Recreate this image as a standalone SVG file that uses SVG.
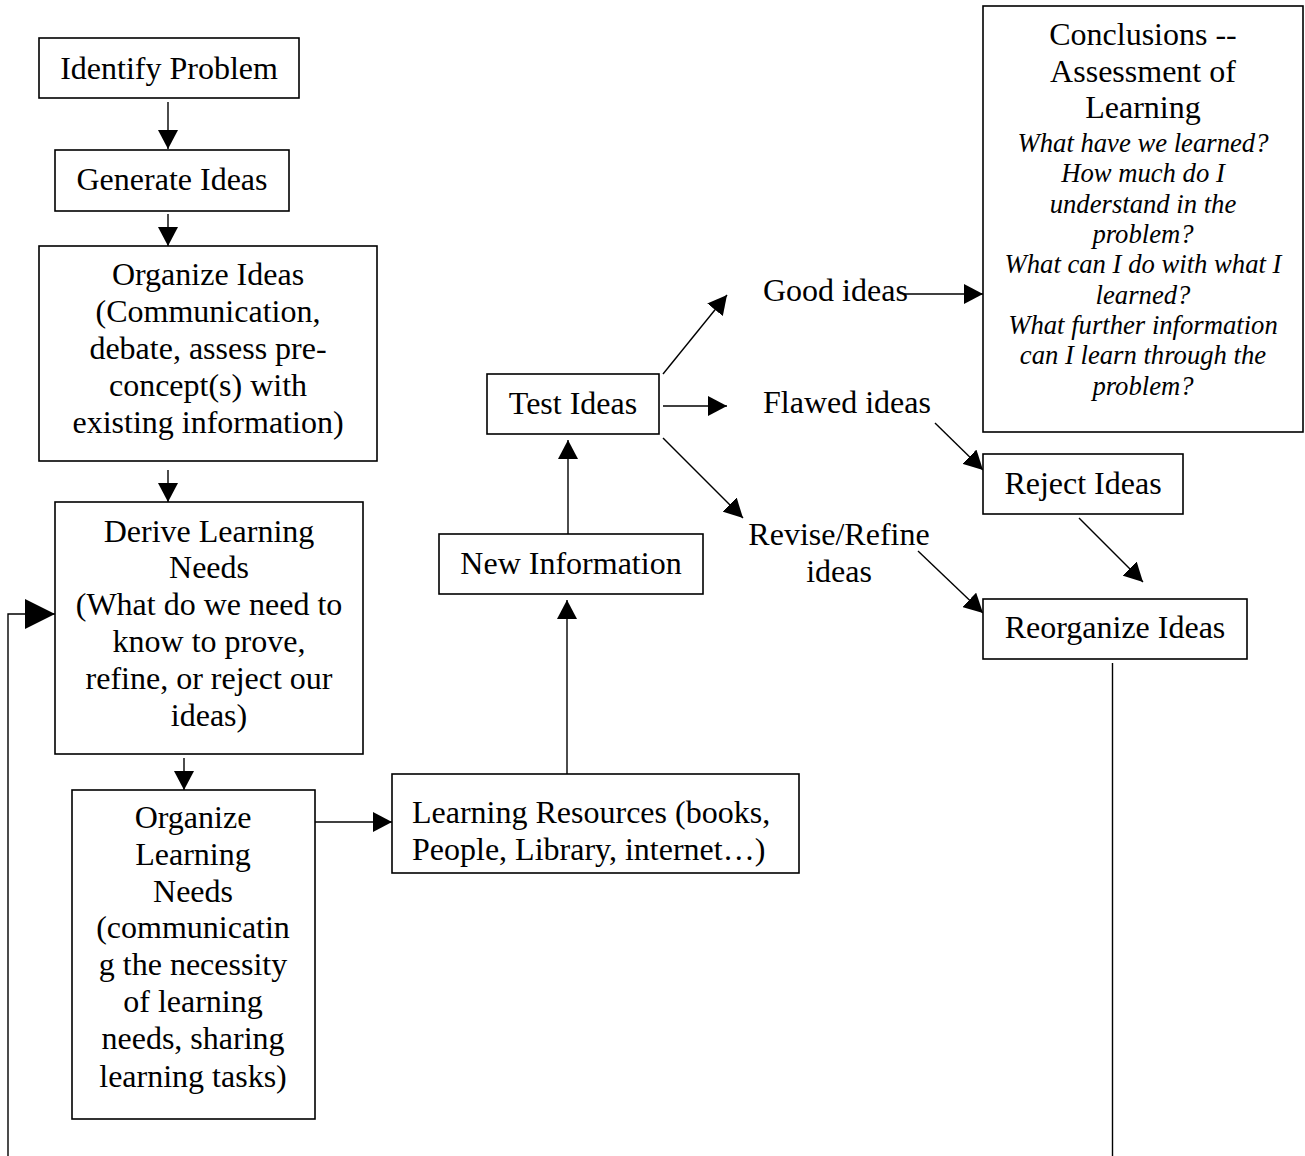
<svg xmlns="http://www.w3.org/2000/svg" width="1305" height="1156" viewBox="0 0 1305 1156">
<style>
  .box { fill: #fff; stroke: #000; stroke-width: 1.6; }
  .t { font-family: "Liberation Serif", "Times New Roman", serif; font-size: 32px; fill: #000; text-anchor: middle; }
  .tl { font-family: "Liberation Serif", "Times New Roman", serif; font-size: 32px; fill: #000; }
  .it { font-family: "Liberation Serif", "Times New Roman", serif; font-size: 26.67px; font-style: italic; fill: #000; text-anchor: middle; }
  .c { stroke: #000; stroke-width: 1.4; fill: none; }
</style>
<defs>
  <marker id="a" markerUnits="userSpaceOnUse" markerWidth="20" markerHeight="20" refX="19" refY="10" orient="auto">
    <path d="M0,0 L19,10 L0,20 Z" fill="#000"/>
  </marker>
  <marker id="big" markerUnits="userSpaceOnUse" markerWidth="31" markerHeight="30" refX="30" refY="15" orient="auto">
    <path d="M0,0 L30,15 L0,30 Z" fill="#000"/>
  </marker>
</defs>
<rect width="1305" height="1156" fill="#fff"/>

<g id="connectors">
  <line class="c" x1="168" y1="102" x2="168" y2="149" marker-end="url(#a)"/>
  <line class="c" x1="168" y1="214" x2="168" y2="246" marker-end="url(#a)"/>
  <line class="c" x1="168" y1="470" x2="168" y2="502" marker-end="url(#a)"/>
  <line class="c" x1="184" y1="758" x2="184" y2="790" marker-end="url(#a)"/>
  <line class="c" x1="312" y1="822" x2="392" y2="822" marker-end="url(#a)"/>
  <line class="c" x1="567" y1="774" x2="567" y2="600" marker-end="url(#a)"/>
  <line class="c" x1="568" y1="534" x2="568" y2="440" marker-end="url(#a)"/>
  <line class="c" x1="663" y1="374" x2="727" y2="295" marker-end="url(#a)"/>
  <line class="c" x1="663" y1="406" x2="727" y2="406" marker-end="url(#a)"/>
  <line class="c" x1="663" y1="438" x2="743" y2="518" marker-end="url(#a)"/>
  <line class="c" x1="903" y1="294" x2="983" y2="294" marker-end="url(#a)"/>
  <line class="c" x1="935" y1="423" x2="983" y2="470" marker-end="url(#a)"/>
  <line class="c" x1="1079" y1="518" x2="1143" y2="582" marker-end="url(#a)"/>
  <line class="c" x1="918" y1="551" x2="983" y2="613" marker-end="url(#a)"/>
  <line class="c" x1="1112.5" y1="663" x2="1112.5" y2="1156"/>
  <polyline class="c" points="8,1156 8,614 55,614" marker-end="url(#big)"/>
</g>

<g id="identify-problem">
  <rect class="box" x="39" y="38" width="260" height="60"/>
  <text class="t" x="169" y="79">Identify Problem</text>
</g>
<g id="generate-ideas">
  <rect class="box" x="55" y="150" width="234" height="61"/>
  <text class="t" x="172" y="190">Generate Ideas</text>
</g>
<g id="organize-ideas">
  <rect class="box" x="39" y="246" width="338" height="215"/>
  <text class="t" x="208" y="285">Organize Ideas</text>
  <text class="t" x="208" y="322">(Communication,</text>
  <text class="t" x="208" y="359">debate, assess pre-</text>
  <text class="t" x="208" y="396">concept(s) with</text>
  <text class="t" x="208" y="433">existing information)</text>
</g>
<g id="derive-learning-needs">
  <rect class="box" x="55" y="502" width="308" height="252"/>
  <text class="t" x="209" y="542">Derive Learning</text>
  <text class="t" x="209" y="578">Needs</text>
  <text class="t" x="209" y="615">(What do we need to</text>
  <text class="t" x="209" y="652">know to prove,</text>
  <text class="t" x="209" y="689">refine, or reject our</text>
  <text class="t" x="209" y="726">ideas)</text>
</g>
<g id="organize-learning-needs">
  <rect class="box" x="72" y="790" width="243" height="329"/>
  <text class="t" x="193" y="828">Organize</text>
  <text class="t" x="193" y="865">Learning</text>
  <text class="t" x="193" y="902">Needs</text>
  <text class="t" x="193" y="938">(communicatin</text>
  <text class="t" x="193" y="975">g the necessity</text>
  <text class="t" x="193" y="1012">of learning</text>
  <text class="t" x="193" y="1049">needs, sharing</text>
  <text class="t" x="193" y="1087">learning tasks)</text>
</g>
<g id="learning-resources">
  <rect class="box" x="392" y="774" width="407" height="99"/>
  <text class="tl" x="412" y="823">Learning Resources (books,</text>
  <text class="tl" x="412" y="860">People, Library, internet…)</text>
</g>
<g id="new-information">
  <rect class="box" x="439" y="534" width="264" height="60"/>
  <text class="t" x="571" y="574">New Information</text>
</g>
<g id="test-ideas">
  <rect class="box" x="487" y="374" width="172" height="60"/>
  <text class="t" x="573" y="414">Test Ideas</text>
</g>
<g id="good-ideas">
  <text class="tl" x="763" y="301">Good ideas</text>
</g>
<g id="flawed-ideas">
  <text class="tl" x="763" y="413">Flawed ideas</text>
</g>
<g id="revise-refine-ideas">
  <text class="t" x="839" y="545">Revise/Refine</text>
  <text class="t" x="839" y="582">ideas</text>
</g>
<g id="conclusions">
  <rect class="box" x="983" y="6" width="320" height="426"/>
  <text class="t" x="1143" y="45">Conclusions --</text>
  <text class="t" x="1143" y="82">Assessment of</text>
  <text class="t" x="1143" y="118">Learning</text>
  <text class="it" x="1143" y="152">What have we learned?</text>
  <text class="it" x="1143" y="182">How much do I</text>
  <text class="it" x="1143" y="213">understand in the</text>
  <text class="it" x="1143" y="243">problem?</text>
  <text class="it" x="1143" y="273">What can I do with what I</text>
  <text class="it" x="1143" y="304">learned?</text>
  <text class="it" x="1143" y="334">What further information</text>
  <text class="it" x="1143" y="364">can I learn through the</text>
  <text class="it" x="1143" y="395">problem?</text>
</g>
<g id="reject-ideas">
  <rect class="box" x="983" y="454" width="200" height="60"/>
  <text class="t" x="1083" y="494">Reject Ideas</text>
</g>
<g id="reorganize-ideas">
  <rect class="box" x="983" y="599" width="264" height="60"/>
  <text class="t" x="1115" y="638">Reorganize Ideas</text>
</g>
</svg>
